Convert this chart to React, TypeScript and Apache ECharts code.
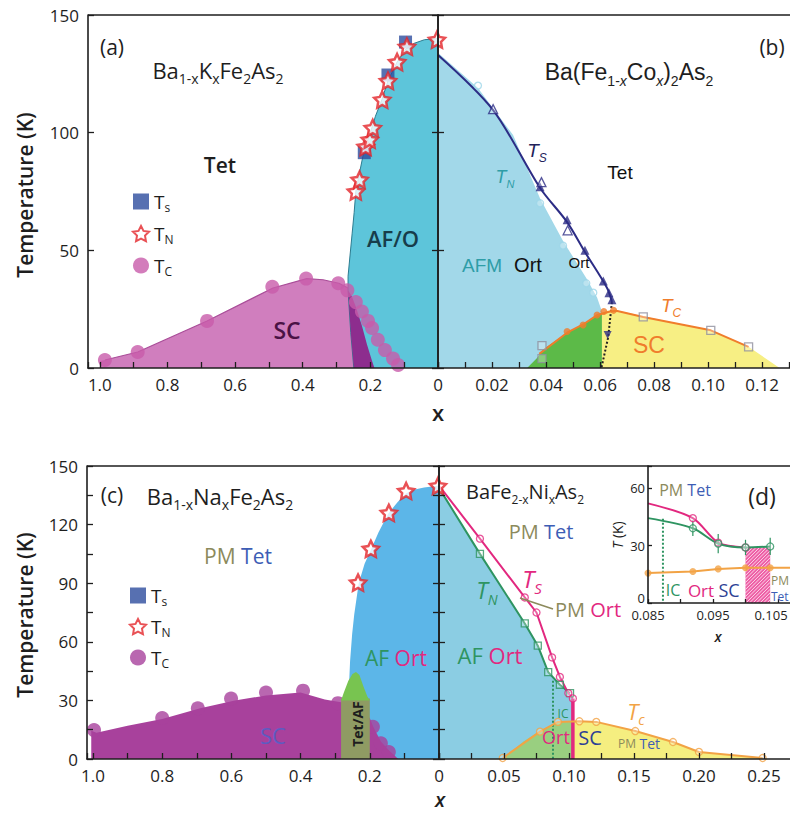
import React, { useEffect, useRef } from 'react';
import * as echarts from 'echarts';

type P = [number, number];

// ---------- (a) Ba1-xKxFe2As2 : x runs from 1.0 (left) to 0 (right) ----------
const kAfRegion: P[] = [
  [0.249, 0], [0.258, 15], [0.266, 33], [0.266, 39], [0.26, 48], [0.254, 57], [0.248, 66], [0.243, 75],
  [0.232, 83], [0.222, 90], [0.212, 95], [0.2, 100], [0.185, 107], [0.166, 114], [0.148, 122],
  [0.121, 130], [0.095, 135.5], [0.07, 138], [0.04, 139.5], [0, 140], [0, 0],
];
const kScRegion: P[] = [
  [1.0, 0], [1.0, 3], [0.985, 3.4], [0.888, 6.8], [0.683, 20], [0.488, 34], [0.388, 38], [0.34, 37.5],
  [0.293, 36], [0.266, 34], [0.266, 33], [0.258, 15], [0.249, 0],
];
const kScAfRegion: P[] = [
  [0.249, 0], [0.258, 15], [0.266, 33], [0.255, 30.5], [0.243, 26], [0.225, 18], [0.21, 10], [0.195, 3], [0.188, 0],
];
const kTs: P[] = [[0.218, 91.5], [0.148, 124.5], [0.096, 138.5]];
const kTn: P[] = [
  [0.243, 75], [0.232, 80], [0.214, 94], [0.202, 97], [0.193, 102], [0.165, 114], [0.148, 122],
  [0.121, 130], [0.092, 136.5], [0.003, 139.5],
];
const kTc: P[] = [
  [0.985, 3.4], [0.888, 6.8], [0.683, 20], [0.49, 34.5], [0.39, 38], [0.295, 36], [0.268, 33], [0.243, 28],
  [0.225, 24], [0.207, 20], [0.195, 17], [0.178, 12], [0.157, 7.6], [0.133, 4], [0.118, 1.3],
];

// ---------- (b) Ba(Fe1-xCox)2As2 ----------
const coAfmRegion: P[] = [
  [0, 0], [0, 134], [0.0148, 119], [0.0278, 99], [0.0378, 72], [0.0463, 54], [0.055, 38], [0.0589, 30],
  [0.0607, 24], [0.0607, 0],
];
const coScAfmRegion: P[] = [
  [0.033, 0], [0.0365, 4], [0.039, 8], [0.0478, 15], [0.0537, 18.5], [0.0589, 22.5], [0.0607, 23.5], [0.0607, 0],
];
const coScRegion: P[] = [
  [0.0607, 0], [0.0607, 23.5], [0.0625, 24.3], [0.066, 24.5], [0.076, 22], [0.101, 16], [0.115, 9], [0.1265, 0],
];
const coTsLine: P[] = [[0, 133], [0.0204, 109.6], [0.0378, 76.5], [0.0478, 62], [0.0544, 49.3], [0.0626, 34], [0.0644, 28]];
const coStructDrop: P[] = [[0.0644, 28], [0.063, 13], [0.0605, 0]];
const coTcLine: P[] = [
  [0.0375, 6], [0.0478, 15], [0.0537, 18.5], [0.0589, 22.5], [0.0637, 24], [0.066, 24.3], [0.076, 21.7], [0.101, 16], [0.115, 9],
];
const coTsFilled: P[] = [[0.0378, 77], [0.0478, 63], [0.0544, 50], [0.0612, 37], [0.0633, 32], [0.0644, 29]];
const coTsOpen: P[] = [[0.0204, 110], [0.0383, 79], [0.048, 58.5]];
const coTsDown: P[] = [[0.0628, 14]];
const coTnOpen: P[] = [[0.0148, 120], [0.0378, 70], [0.0463, 52], [0.0549, 36], [0.0575, 32]];
const coTcFilled: P[] = [[0.0478, 15.5], [0.0537, 18.3], [0.0589, 22.5], [0.0614, 24], [0.065, 24.5]];
const coTcOpen: P[] = [[0.0385, 9.5], [0.0385, 4], [0.076, 21.7], [0.101, 16], [0.115, 9]];

// ---------- (c) Ba1-xNaxFe2As2 : x runs from 1.0 (left) to 0 (right) ----------
const naAfRegion: P[] = [
  [0.262, 0], [0.262, 30], [0.257, 50], [0.251, 64], [0.245, 74], [0.232, 90], [0.215, 100], [0.197, 107],
  [0.175, 116], [0.147, 125.5], [0.12, 131.5], [0.095, 136], [0.07, 138], [0.043, 139], [0.02, 139.5], [0, 140], [0, 0],
];
const naScRegion: P[] = [
  [1.005, 0], [1.005, 14.5], [0.99, 13.5], [0.9, 17], [0.8, 20.5], [0.69, 26], [0.59, 30], [0.5, 32.5], [0.4, 34],
  [0.33, 30.5], [0.283, 29], [0.2, 21], [0.19, 16.5], [0.168, 9], [0.145, 4.5], [0.13, 2], [0.118, 0],
];
const naTetAfBand: P[] = [[0.283, 0], [0.283, 31], [0.2, 31], [0.2, 0]];
const naTetAfCap: P[] = [
  [0.283, 30], [0.275, 34], [0.262, 40], [0.25, 43.5], [0.24, 44.5], [0.23, 43], [0.218, 37], [0.207, 32], [0.2, 30],
];
const naTn: P[] = [[0.234, 90.3], [0.197, 107.6], [0.145, 126], [0.095, 137.2], [0.003, 139.8]];
const naTc: P[] = [
  [0.997, 14.8], [0.8, 21], [0.697, 26], [0.601, 31], [0.5, 34], [0.393, 35], [0.292, 28.6], [0.191, 16.5], [0.168, 8], [0.145, 3.6],
];

// ---------- (d) BaFe2-xNixAs2 ----------
const niAfRegion: P[] = [
  [0, 0], [0, 138.8], [0.0315, 105], [0.066, 69.4], [0.076, 58], [0.084, 44.5], [0.093, 38], [0.1008, 33.7], [0.103, 31], [0.103, 0],
];
const niScAfRegion: P[] = [[0.049, 0], [0.065, 9], [0.0777, 14.5], [0.0915, 19], [0.103, 19.5], [0.103, 0]];
const niScRegion: P[] = [
  [0.103, 0], [0.103, 19.5], [0.108, 19.3], [0.121, 19], [0.151, 14.3], [0.18, 8.7], [0.2, 3.6], [0.249, 0.5], [0.249, 0],
];
const niTn: P[] = [[0, 138.8], [0.0315, 105], [0.066, 69.4], [0.076, 58], [0.084, 44.5], [0.093, 38], [0.1008, 33.7]];
const niTs: P[] = [[0, 140], [0.0315, 112.8], [0.066, 82.7], [0.075, 75], [0.087, 52], [0.093, 42], [0.0995, 33.7], [0.103, 31]];
const niTsDrop: P[] = [[0.103, 31], [0.103, 0]];
const niIcLine: P[] = [[0.0877, 40], [0.0877, 0]];
const niTc: P[] = [
  [0.049, 0.5], [0.0777, 14], [0.0915, 19], [0.108, 19.3], [0.121, 19], [0.151, 14.3], [0.18, 8.7], [0.2, 3.6], [0.249, 0.5],
];

// ---------- (d) inset ----------
const insTs: P[] = [[0.085, 52], [0.0919, 44.3], [0.0958, 31.5], [0.1, 29]];
const insTn: P[] = [[0.085, 44.3], [0.0919, 39], [0.0958, 31], [0.1, 29], [0.1038, 29.5]];
const insTc: P[] = [[0.085, 15.6], [0.0919, 16.4], [0.0958, 17.8], [0.1, 18.4], [0.1038, 18.4], [0.107, 18.4]];
const insIcLine: P[] = [[0.0873, 44], [0.0873, 0]];
const insHatch: P[] = [[0.1, 0], [0.1038, 29]];
const insErr: [number, number, number][] = [[0.0919, 35, 43], [0.0958, 26, 36], [0.1, 25, 33], [0.1038, 25, 34]];

const INK = '#1e1e1e';
const FONT = '"Open Sans", "Noto Sans", sans-serif';
const ARIAL = '"Liberation Sans", Arial, sans-serif';
const OLIVE = '#8C8A5C';
const TETBLUE = '#3D5DB5';
const MAGENTA = '#E2287F';
const GREEN = '#2E9461';
const ORANGE_D = '#F2A345';
const STAR =
  'path://M50,0L64.69,29.78L97.55,34.55L73.78,57.73L79.39,90.45L50,75L20.61,90.45L26.22,57.73L2.45,34.55L35.31,29.78Z';

const Y = [0, 2, 3, 5, 6];

function region(g: number, pts: P[], fill: string, z = 1) {
  return {
    type: 'custom', xAxisIndex: g, yAxisIndex: Y[g], z, silent: true, data: pts,
    renderItem: (params: any, api: any) =>
      params.dataIndex === 0
        ? { type: 'polygon', shape: { points: pts.map((p) => api.coord(p)) }, style: { fill } }
        : { type: 'group', children: [] },
  };
}

function curve(g: number, pts: P[], color: string, width: number, o: any = {}) {
  return {
    type: 'line', xAxisIndex: g, yAxisIndex: Y[g], data: pts, symbol: 'none', silent: true,
    z: o.z ?? 4, smooth: o.smooth ?? false,
    lineStyle: { color, width, type: o.type ?? 'solid' },
  };
}

function dots(g: number, pts: P[], symbol: string, size: number, itemStyle: any, name?: string, z = 6) {
  return {
    type: 'scatter', name, xAxisIndex: g, yAxisIndex: Y[g], data: pts, symbol, symbolSize: size,
    itemStyle, z, silent: true,
  };
}

function richFor(size: number, family: string, fill: string, weight: any = 'normal') {
  const lh = Math.round(size * 1.4);
  const sub = Math.round(size * 0.62);
  return {
    n: { fontSize: size, fontFamily: family, fontWeight: weight, lineHeight: lh, verticalAlign: 'middle', fill },
    i: { fontSize: size, fontFamily: family, fontWeight: weight, fontStyle: 'italic', lineHeight: lh, verticalAlign: 'middle', fill },
    s: { fontSize: sub, fontFamily: family, fontWeight: weight, lineHeight: sub, verticalAlign: 'bottom', fill },
    si: { fontSize: sub, fontFamily: family, fontWeight: weight, fontStyle: 'italic', lineHeight: sub, verticalAlign: 'bottom', fill },
  };
}

function txt(x: number, y: number, text: string, size: number, fill: string, o: any = {}) {
  const family = o.family || FONT;
  return {
    type: 'text', x, y, rotation: o.rotation || 0, z: 50, silent: true,
    style: {
      text, fill, fontSize: size, fontFamily: family, fontWeight: o.weight || 'normal',
      fontStyle: o.italic ? 'italic' : 'normal',
      textAlign: o.align || 'center', textVerticalAlign: 'middle',
      rich: o.rich,
    },
  };
}

function two(x: number, y: number, a: string, ca: string, b: string, cb: string, size: number, sizeA = size) {
  const lh = Math.round(size * 1.4);
  return txt(x, y, `{a|${a}} {b|${b}}`, size, INK, {
    rich: {
      a: { fontSize: sizeA, fontFamily: FONT, fill: ca, lineHeight: lh, verticalAlign: 'middle' },
      b: { fontSize: size, fontFamily: FONT, fill: cb, lineHeight: lh, verticalAlign: 'middle' },
    },
  });
}

const fmtTenths = (v: number) => {
  const r = Math.round(v * 10);
  if (Math.abs(v * 10 - r) > 1e-6 || r % 2) return '';
  return r === 0 ? '0' : (r / 10).toFixed(1);
};
const fmtCo = (v: number) => {
  const r = Math.round(v * 100);
  if (Math.abs(v * 100 - r) > 1e-6 || r === 0 || r % 2) return '';
  return (r / 100).toFixed(2);
};
const fmtNi = (v: number) => {
  const r = Math.round(v * 1000);
  if (Math.abs(v * 1000 - r) > 1e-6 || r === 0 || r % 50) return '';
  return (r / 1000).toFixed(2);
};
// the last inset label sits at the page edge, so it is nudged left to stay readable
const fmtInset = (v: number) => {
  const r = Math.round(v * 1000);
  if (Math.abs(v * 1000 - r) > 1e-6) return '';
  if (r === 85 || r === 95) return (r / 1000).toFixed(3);
  if (r === 105) return `{edge|${(r / 1000).toFixed(3)}}`;
  return '';
};
const fmtEvery = (step: number) => (v: number) => {
  const r = Math.round(v);
  return Math.abs(v - r) < 1e-6 && r % step === 0 ? String(r) : '';
};
// inset temperature labels: the zero is lifted a little to clear the x labels below it
const fmtInsetT = (v: number) => {
  const r = Math.round(v);
  if (Math.abs(v - r) > 1e-6 || r % 30) return '';
  return r === 0 ? '{lift|0}' : String(r);
};
const none = () => '';

const LINE = { color: INK, width: 1.6 };

function xAx(gridIndex: number, min: number, max: number, interval: number, inverse: boolean, formatter: any, small = false) {
  return {
    type: 'value', gridIndex, min, max, interval, inverse, z: 10,
    axisLine: { show: true, onZero: false, lineStyle: LINE },
    axisTick: { show: true, inside: true, length: small ? 4 : 6, lineStyle: { color: INK, width: 1.3 } },
    axisLabel: {
      formatter, fontSize: small ? 13 : 17, fontFamily: FONT, color: INK, margin: small ? 5 : 8,
      rich: { edge: { fontSize: 13, fontFamily: FONT, color: INK, padding: [0, 14, 0, 0] } },
    },
    splitLine: { show: false },
  };
}

function yAx(gridIndex: number, position: string, max: number, interval: number, formatter: any, inside: boolean, small = false) {
  return {
    type: 'value', gridIndex, position, min: 0, max, interval, z: 10,
    axisLine: { show: true, onZero: false, lineStyle: LINE },
    axisTick: { show: true, inside, length: small ? 4 : 6, lineStyle: { color: INK, width: 1.3 } },
    axisLabel: {
      show: formatter !== none, formatter, fontSize: small ? 13 : 17, fontFamily: FONT, color: INK, margin: small ? 3 : 9,
      rich: { lift: { fontSize: 13, fontFamily: FONT, color: INK, padding: [0, 0, 10, 0] } },
    },
    splitLine: { show: false },
  };
}

function buildOption() {
  const legendRich = {
    n: { fontSize: 19, fontFamily: FONT, color: INK, lineHeight: 24, verticalAlign: 'middle' },
    s: { fontSize: 12, fontFamily: FONT, color: INK, lineHeight: 12, verticalAlign: 'bottom' },
  };
  const subOf: Record<string, string> = { Ts: 's', TN: 'N', TC: 'C' };
  const legendBase = {
    orient: 'vertical', itemWidth: 16, itemHeight: 16, selectedMode: false,
    formatter: (name: string) => `{n|T}{s|${subOf[name.trim()]}}`,
    textStyle: { rich: legendRich },
  };
  const starStyle = { color: '#fff', borderColor: '#E3262B', borderWidth: 2.5 };
  const open = (c: string) => ({ color: 'rgba(255,255,255,0.35)', borderColor: c, borderWidth: 1.3 });

  const hatch = {
    type: 'custom', xAxisIndex: 4, yAxisIndex: Y[4], z: 3, silent: true, data: insHatch,
    renderItem: (params: any, api: any) => {
      if (params.dataIndex !== 0) return { type: 'group', children: [] };
      const a = api.coord(insHatch[0]);
      const b = api.coord(insHatch[1]);
      const x0 = Math.min(a[0], b[0]), x1 = Math.max(a[0], b[0]);
      const y0 = Math.min(a[1], b[1]), y1 = Math.max(a[1], b[1]);
      const w = x1 - x0, h = y1 - y0;
      const children: any[] = [{ type: 'rect', shape: { x: x0, y: y0, width: w, height: h }, style: { fill: '#EE5FA6' } }];
      for (let k = -h; k < w; k += 3.5) {
        const t0 = Math.max(0, -k), t1 = Math.min(h, w - k);
        if (t1 <= t0) continue;
        children.push({
          type: 'line',
          shape: { x1: x0 + k + t0, y1: y1 - t0, x2: x0 + k + t1, y2: y1 - t1 },
          style: { stroke: 'rgba(255,255,255,0.75)', lineWidth: 1 },
        });
      }
      return { type: 'group', children };
    },
  };

  const errorBars = {
    type: 'custom', xAxisIndex: 4, yAxisIndex: Y[4], z: 5, silent: true, data: insErr,
    encode: { x: 0, y: [1, 2] },
    renderItem: (params: any, api: any) => {
      const x = api.value(0);
      const a = api.coord([x, api.value(1)]);
      const b = api.coord([x, api.value(2)]);
      return { type: 'line', shape: { x1: a[0], y1: a[1], x2: b[0], y2: b[1] }, style: { stroke: GREEN, lineWidth: 1.2 } };
    },
  };

  return {
    animation: false,
    backgroundColor: '#fff',
    grid: [
      { left: 88, top: 15, width: 350, height: 353, containLabel: false, outerBoundsMode: 'none' },
      { left: 438, top: 15, width: 353, height: 353, containLabel: false, outerBoundsMode: 'none' },
      { left: 87, top: 466, width: 352, height: 293, containLabel: false, outerBoundsMode: 'none' },
      { left: 439, top: 466, width: 352, height: 293, containLabel: false, outerBoundsMode: 'none' },
      { left: 648, top: 466, width: 143, height: 137, containLabel: false, outerBoundsMode: 'none' },
    ],
    xAxis: [
      xAx(0, 0, 1.035, 0.1, true, fmtTenths),
      xAx(1, 0, 0.1307, 0.01, false, fmtCo),
      xAx(2, 0, 1.0173, 0.1, true, fmtTenths),
      xAx(3, 0, 0.2708, 0.025, false, fmtNi),
      xAx(4, 0.085, 0.107, 0.005, false, fmtInset, true),
    ],
    yAxis: [
      yAx(0, 'left', 150, 50, fmtEvery(50), true),
      yAx(0, 'right', 150, 50, none, false),
      yAx(1, 'left', 150, 50, none, false),
      yAx(2, 'left', 150, 15, fmtEvery(30), true),
      yAx(2, 'right', 150, 15, none, false),
      yAx(3, 'left', 150, 15, none, false),
      yAx(4, 'left', 71.5, 30, fmtInsetT, true, true),
    ],
    legend: [
      { ...legendBase, left: 127, top: 187, itemGap: 10.5, data: ['Ts', 'TN', 'TC'] },
      { ...legendBase, left: 124, top: 581, itemGap: 9.5, data: ['Ts ', 'TN ', 'TC '] },
    ],
    series: [
      // (a)
      region(0, kAfRegion, '#5DC5DA', 1),
      curve(0, kAfRegion.slice(0, -1), '#2B7C90', 1, { z: 2 }),
      region(0, kScRegion, '#D07EBE', 2),
      curve(0, kScRegion.slice(2, 10), '#A94D98', 1.2, { z: 3 }),
      region(0, kScAfRegion, '#8D2D8E', 3),
      dots(0, kTc, 'circle', 14, { color: '#C85BAA' }, 'TC', 5),
      dots(0, kTs, 'rect', 13, { color: '#2D4C9E' }, 'Ts', 6),
      dots(0, kTn, STAR, 16, starStyle, 'TN', 7),

      // (b)
      region(1, coAfmRegion, '#A2D8E9', 1),
      region(1, coScAfmRegion, '#5CBA48', 2),
      region(1, coScRegion, '#F7EF84', 2),
      curve(1, coTsLine, '#2C2C85', 2, { smooth: 0.3 }),
      curve(1, coStructDrop, '#222', 2, { type: 'dotted' }),
      curve(1, coTcLine, '#F07D2C', 2),
      dots(1, coTnOpen, 'circle', 7, open('#9CD6E8')),
      dots(1, coTsFilled, 'triangle', 9, { color: '#2C2C85' }),
      dots(1, coTsOpen, 'triangle', 9, open('#2C2C85')),
      dots(1, coTsDown, 'path://M0,0L10,0L5,9Z', 8, { color: '#2C2C85' }),
      dots(1, coTcFilled, 'circle', 7, { color: '#F07D2C' }),
      dots(1, coTcOpen, 'rect', 8, open('#8E8E9E')),

      // (c)
      region(2, naAfRegion, '#5CB6E8', 1),
      region(2, naScRegion, '#A8419C', 2),
      dots(2, naTc, 'circle', 14, { color: '#A8419C' }, 'TC ', 3),
      region(2, naTetAfBand, '#8F9B63', 4),
      region(2, naTetAfCap, '#78C450', 4),
      dots(2, [], 'rect', 13, { color: '#2D4C9E' }, 'Ts '),
      dots(2, naTn, STAR, 16, starStyle, 'TN ', 7),

      // (d)
      region(3, niAfRegion, '#8BCDE3', 1),
      region(3, niScAfRegion, '#99CF80', 2),
      region(3, niScRegion, '#F5EE80', 2),
      curve(3, niTn, GREEN, 2),
      curve(3, niTs, MAGENTA, 2),
      curve(3, niTsDrop, MAGENTA, 3.5),
      curve(3, niIcLine, GREEN, 2, { type: 'dotted' }),
      curve(3, niTc, ORANGE_D, 2),
      dots(3, niTn.slice(1), 'rect', 7, open(GREEN)),
      dots(3, niTs.slice(1), 'circle', 7, open(MAGENTA)),
      dots(3, niTc, 'circle', 7, open(ORANGE_D)),

      // (d) inset
      hatch,
      curve(4, insTs, MAGENTA, 2, { smooth: 0.3 }),
      curve(4, insTn, GREEN, 2, { smooth: 0.3 }),
      curve(4, insIcLine, GREEN, 2, { type: 'dotted' }),
      curve(4, insTc, ORANGE_D, 2),
      errorBars,
      dots(4, insTs.slice(1), 'circle', 7, open(MAGENTA)),
      dots(4, insTn.slice(1), 'circle', 7, open(GREEN)),
      dots(4, insTc.slice(0, 5), 'circle', 7, { color: ORANGE_D }),
    ],
    graphic: [
      { type: 'line', shape: { x1: 88, y1: 15, x2: 790, y2: 15 }, style: { stroke: INK, lineWidth: 1.6 }, z: 20 },
      { type: 'line', shape: { x1: 87, y1: 466, x2: 790, y2: 466 }, style: { stroke: INK, lineWidth: 1.6 }, z: 20 },

      // (a)
      txt(112, 47, '(a)', 21, INK),
      txt(218, 70, '{n|Ba}{s|1-x}{n|K}{s|x}{n|Fe}{s|2}{n|As}{s|2}', 22, INK, { rich: richFor(22, FONT, INK) }),
      txt(220, 165, 'Tet', 21, INK, { weight: 600 }),
      txt(393, 238, 'AF/O', 22, '#173D4A', { weight: 600 }),
      txt(287, 330, 'SC', 23, '#4A1245', { weight: 600 }),
      txt(25, 195, 'Temperature (K)', 21, INK, { weight: 600, rotation: Math.PI / 2 }),
      txt(438, 412, 'x', 22, INK, { weight: 600 }),

      // (b)
      txt(772, 47, '(b)', 21, INK),
      txt(629, 72, '{n|Ba(Fe}{s|1-}{si|x}{n|Co}{si|x}{n|)}{s|2}{n|As}{s|2}', 23, INK, { rich: richFor(23, ARIAL, INK) }),
      txt(537, 150, '{i|T}{si|S}', 19, '#22225A', { rich: richFor(19, ARIAL, '#22225A') }),
      txt(505, 177, '{i|T}{si|N}', 18, '#2E9DA7', { rich: richFor(18, ARIAL, '#2E9DA7') }),
      txt(620, 172, 'Tet', 19, '#111', { family: ARIAL }),
      txt(482, 265, 'AFM', 19, '#2E9DA7', { family: ARIAL }),
      txt(528, 265, 'Ort', 20, '#111', { family: ARIAL }),
      txt(579, 262, 'Ort', 15, '#111', { family: ARIAL }),
      txt(671, 305, '{i|T}{si|C}', 19, '#F07D2C', { rich: richFor(19, ARIAL, '#F07D2C') }),
      txt(649, 345, 'SC', 23, '#F07D2C', { family: ARIAL }),

      // (c)
      txt(112, 495, '(c)', 21, INK),
      txt(220, 496, '{n|Ba}{s|1-x}{n|Na}{s|x}{n|Fe}{s|2}{n|As}{s|2}', 22, INK, { rich: richFor(22, FONT, INK) }),
      two(238, 556, 'PM', OLIVE, 'Tet', TETBLUE, 21),
      txt(273, 735, 'SC', 22, '#5D5CC2'),
      txt(357, 724, 'Tet/AF', 14, INK, { weight: 'bold', rotation: Math.PI / 2 }),
      two(396, 658, 'AF', GREEN, 'Ort', MAGENTA, 21),
      txt(25, 615, 'Temperature (K)', 21, INK, { weight: 600, rotation: Math.PI / 2 }),
      txt(440, 799, 'x', 20, INK, { weight: 600, italic: true }),

      // (d)
      txt(525, 491, '{n|BaFe}{s|2-x}{n|Ni}{s|x}{n|As}{s|2}', 20, INK, { rich: richFor(20, FONT, INK) }),
      two(541, 531, 'PM', OLIVE, 'Tet', TETBLUE, 20),
      txt(532, 578, '{i|T}{si|S}', 24, MAGENTA, { rich: richFor(24, FONT, MAGENTA) }),
      txt(487, 590, '{i|T}{si|N}', 23, GREEN, { rich: richFor(23, FONT, GREEN) }),
      { type: 'line', shape: { x1: 520, y1: 598, x2: 553, y2: 609 }, style: { stroke: OLIVE, lineWidth: 1.5 }, z: 20 },
      two(588, 609, 'PM', OLIVE, 'Ort', MAGENTA, 20),
      two(490, 655, 'AF', GREEN, 'Ort', MAGENTA, 22),
      txt(636, 711, '{i|T}{si|c}', 22, ORANGE_D, { rich: richFor(22, FONT, ORANGE_D) }),
      txt(563, 713, 'IC', 12, GREEN),
      txt(556, 737, 'Ort', 18, MAGENTA),
      txt(590, 737, 'SC', 20, '#2E3F95'),
      two(639, 743, 'PM', OLIVE, 'Tet', TETBLUE, 14, 12),

      // inset
      two(685, 490, 'PM', OLIVE, 'Tet', TETBLUE, 16),
      txt(762, 496, '(d)', 23, INK),
      txt(673, 590, 'IC', 16, GREEN),
      txt(701, 590, 'Ort', 17, MAGENTA),
      txt(729, 590, 'SC', 18, '#2E3F95'),
      txt(771, 580, 'PM', 12, OLIVE, { align: 'left' }),
      txt(771, 596, 'Tet', 12, TETBLUE, { align: 'left' }),
      txt(617, 535, '{i|T}{n| (K)}', 14, INK, { rotation: Math.PI / 2, rich: richFor(14, FONT, INK) }),
      txt(718, 636, 'x', 14, INK, { italic: true, weight: 600 }),
    ],
  };
}

export default function App() {
  const ref = useRef<HTMLDivElement>(null);
  useEffect(() => {
    const chart = echarts.init(ref.current as HTMLDivElement, undefined, { renderer: 'svg' });
    chart.setOption(buildOption() as any);
    return () => chart.dispose();
  }, []);
  return (
    <div
      ref={ref}
      style={{ position: 'absolute', left: 0, top: 0, width: 790, height: 814, background: '#fff' }}
    />
  );
}
